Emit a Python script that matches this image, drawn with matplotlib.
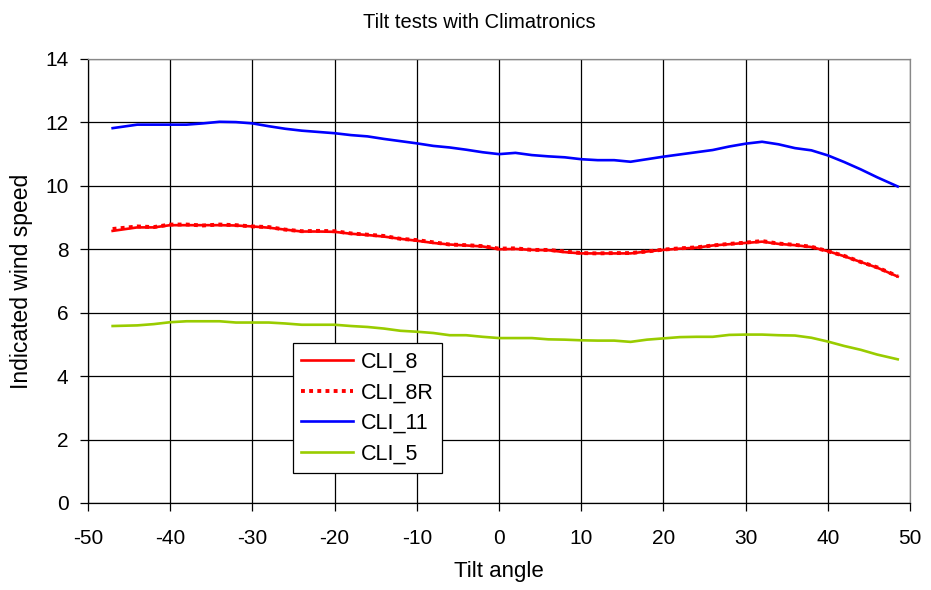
import matplotlib
matplotlib.use("Agg")
import matplotlib.pyplot as plt

plt.rcParams['font.family'] = ['Liberation Sans', 'DejaVu Sans']
plt.rcParams['axes.unicode_minus'] = False

# tilt angles (degrees) used for every run
tilt = [-47, -44, -42, -40, -38, -36, -34, -32, -30, -28, -26, -24, -22, -20,
        -18, -16, -14, -12, -10, -8, -6, -4, -2, 0, 2, 4, 6, 8, 10, 12, 14,
        16, 18, 20, 22, 24, 26, 28, 30, 32, 34, 36, 38, 40, 42, 44, 46, 48.5]

cli_8 = [8.58, 8.69, 8.69, 8.76, 8.76, 8.76, 8.76, 8.75, 8.72, 8.68, 8.62, 8.56,
         8.56, 8.55, 8.49, 8.45, 8.40, 8.33, 8.27, 8.20, 8.15, 8.12, 8.09, 8.00,
         8.01, 7.98, 7.97, 7.91, 7.87, 7.87, 7.87, 7.87, 7.93, 7.98, 8.02, 8.05,
         8.12, 8.16, 8.20, 8.24, 8.17, 8.13, 8.07, 7.94, 7.78, 7.60, 7.42, 7.14]

cli_8r = [8.64, 8.72, 8.70, 8.78, 8.78, 8.75, 8.78, 8.76, 8.72, 8.70, 8.62, 8.57,
          8.58, 8.57, 8.50, 8.46, 8.42, 8.33, 8.29, 8.22, 8.15, 8.13, 8.10, 8.02,
          8.03, 7.98, 7.98, 7.93, 7.88, 7.87, 7.88, 7.88, 7.93, 7.99, 8.03, 8.06,
          8.12, 8.17, 8.21, 8.26, 8.18, 8.14, 8.08, 7.94, 7.79, 7.60, 7.43, 7.15]

cli_11 = [11.82, 11.93, 11.93, 11.93, 11.93, 11.97, 12.02, 12.01, 11.97, 11.88,
          11.80, 11.74, 11.70, 11.66, 11.60, 11.56, 11.48, 11.41, 11.34, 11.26,
          11.21, 11.14, 11.06, 11.00, 11.04, 10.97, 10.93, 10.90, 10.84, 10.81,
          10.81, 10.76, 10.84, 10.92, 10.99, 11.06, 11.13, 11.24, 11.33, 11.39,
          11.31, 11.19, 11.12, 10.96, 10.75, 10.52, 10.27, 9.98]

cli_5 = [5.58, 5.60, 5.64, 5.70, 5.73, 5.73, 5.73, 5.69, 5.69, 5.69, 5.66, 5.62,
         5.62, 5.62, 5.58, 5.55, 5.50, 5.43, 5.40, 5.36, 5.29, 5.29, 5.24, 5.20,
         5.20, 5.20, 5.16, 5.15, 5.13, 5.12, 5.12, 5.08, 5.15, 5.19, 5.23, 5.24,
         5.24, 5.30, 5.31, 5.31, 5.29, 5.28, 5.21, 5.09, 4.95, 4.83, 4.68, 4.53]

fig = plt.figure(figsize=(9.31, 5.90), dpi=100)
ax = fig.add_axes([0.0945, 0.1475, 0.883, 0.7525])

lw = 1.9
ax.plot(tilt, cli_8, color='#FF0000', lw=lw, label='CLI_8', zorder=3)
ax.plot(tilt, cli_8r, color='#FF0000', lw=2.8, linestyle=(0, (1, 1.1)),
        label='CLI_8R', zorder=3)
ax.plot(tilt, cli_11, color='#0000FF', lw=lw, label='CLI_11', zorder=3)
ax.plot(tilt, cli_5, color='#99CC00', lw=lw, label='CLI_5', zorder=3)

ax.set_xlim(-50, 50)
ax.set_ylim(0, 14)
ax.set_xticks(range(-50, 51, 10))
ax.set_yticks(range(0, 15, 2))
ax.grid(True, color='black', lw=0.9, zorder=0)
for s in ax.spines.values():
    s.set_color('black')
    s.set_linewidth(0.9)
ax.spines['top'].set_color('#888888')
ax.spines['right'].set_color('#888888')
ax.tick_params(direction='out', length=6, width=0.9, labelsize=15)
ax.tick_params(axis='y', pad=8)
ax.tick_params(axis='x', pad=13)

fig.text(0.515, 0.962, 'Tilt tests with Climatronics', fontsize=14.5,
         ha='center', va='center')
ax.set_xlabel('Tilt angle', fontsize=16, labelpad=9)
ax.set_ylabel('Indicated wind speed', fontsize=16.5, labelpad=9)

leg = ax.legend(loc='lower left', bbox_to_anchor=(0.249, 0.067),
                fontsize=15.5, frameon=True, fancybox=False, framealpha=1,
                edgecolor='black', handlelength=2.4, handletextpad=0.35,
                borderpad=0.4, labelspacing=0.45, borderaxespad=0)
leg.get_frame().set_linewidth(0.9)

fig.savefig('out.png', dpi=100)
